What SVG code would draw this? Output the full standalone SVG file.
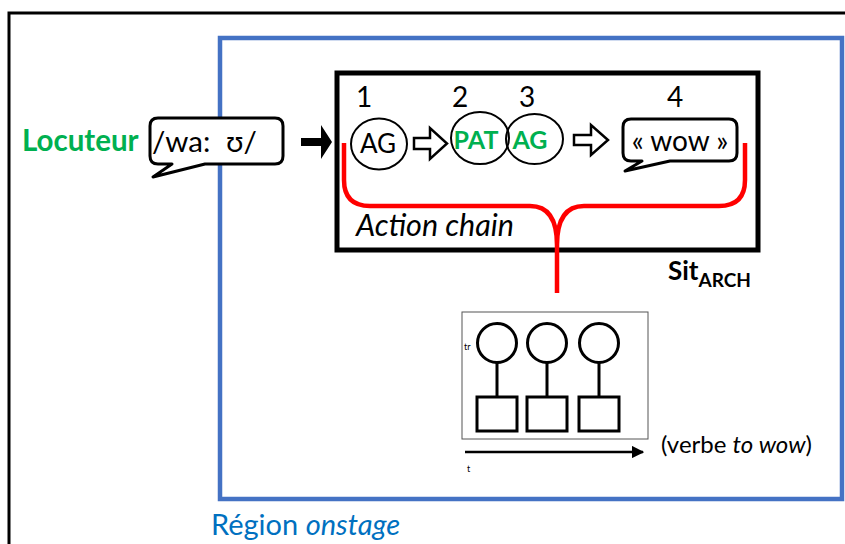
<svg xmlns="http://www.w3.org/2000/svg" width="845" height="544" viewBox="0 0 845 544">
<style>
text{font-family:Lato,"Liberation Sans","DejaVu Sans",sans-serif;fill:#000}
.g{fill:#00B050;font-weight:bold}
.thick{fill:none;stroke:#000;stroke-width:3}
.bub{fill:#fff;stroke:#000;stroke-width:3;stroke-linejoin:round}
.harrow{fill:#fff;stroke:#000;stroke-width:2.5;stroke-linejoin:miter}
</style>
<defs>
<marker id="ah" viewBox="0 0 10 10" refX="9" refY="5" markerWidth="5" markerHeight="5" orient="auto" markerUnits="strokeWidth"><path d="M0,0 L10,5 L0,10 z" fill="#000"/></marker>
</defs>
<rect width="845" height="544" fill="#fff"/>
<g id="frame"><path d="M9,548 V13 H850" fill="none" stroke="#000" stroke-width="3"/></g>
<g id="region-onstage">
<rect x="220" y="38" width="622" height="461" fill="none" stroke="#4472C4" stroke-width="4.5"/>
<text x="211" y="535" font-size="29" style="fill:#0070C0">Région <tspan font-style="italic">onstage</tspan></text>
</g>
<g id="locuteur"><text x="22" y="151" font-size="29.5" class="g">Locuteur</text></g>
<g id="bubble-wa">
<path class="bub" d="M158,118 H275 Q283,118 283,126 V156 Q283,164 275,164 H205 L153,177 L172,164 H158 Q150,164 150,156 V126 Q150,118 158,118 Z"/>
<text x="152" y="152" font-size="29.5">/wa:<tspan x="226">ʊ/</tspan></text>
</g>
<g id="sitarch">
<rect x="337" y="73" width="421" height="177" fill="none" stroke="#000" stroke-width="5"/>
<text x="356" y="236" font-size="30.5" font-style="italic">Action chain</text>
<text x="668" y="280" font-size="26" font-weight="bold">Sit<tspan font-size="19" dy="7">ARCH</tspan></text>
</g>
<g id="numbers" font-size="28">
<text x="364" y="107" text-anchor="middle" font-size="28">1</text>
<text x="460" y="107" text-anchor="middle" font-size="28">2</text>
<text x="527" y="107" text-anchor="middle" font-size="28">3</text>
<text x="675" y="107" text-anchor="middle" font-size="28">4</text>
</g>
<g id="ag1">
<ellipse cx="379" cy="144" rx="28" ry="25.5" fill="none" stroke="#000" stroke-width="2"/>
<text x="378" y="153" font-size="26" text-anchor="middle">AG</text>
</g>
<g id="pat">
<ellipse cx="480" cy="138" rx="29" ry="26" fill="none" stroke="#000" stroke-width="2"/>
<text x="476" y="149" font-size="25" text-anchor="middle" class="g">PAT</text>
</g>
<g id="ag2">
<ellipse cx="534.5" cy="139" rx="28.5" ry="25" fill="none" stroke="#000" stroke-width="2"/>
<text x="530" y="149" font-size="25" text-anchor="middle" class="g">AG</text>
</g>
<g id="bubble-wow">
<path class="bub" d="M631,119 H729 Q737,119 737,127 V153 Q737,161 729,161 H670 L625,171 L642,161 H631 Q623,161 623,153 V127 Q623,119 631,119 Z"/>
<text x="680" y="151" font-size="28" text-anchor="middle">« wow »</text>
</g>
<g id="timeline">
<rect x="462" y="312" width="186" height="127" fill="none" stroke="#555" stroke-width="1"/>
<g class="thick">
<circle cx="497" cy="343" r="19.5"/><circle cx="547" cy="343" r="19.5"/><circle cx="599" cy="343" r="19.5"/>
<line x1="497" y1="362.5" x2="497" y2="397"/><line x1="547" y1="362.5" x2="547" y2="397"/><line x1="599" y1="362.5" x2="599" y2="397"/>
<rect x="477" y="397" width="40" height="34"/><rect x="527" y="397" width="40" height="34"/><rect x="579" y="397" width="40" height="34"/>
</g>
<text x="464" y="350" font-size="9">tr</text>
<text x="467" y="472" font-size="9">t</text>
<text x="661" y="453" font-size="24">(verbe <tspan font-style="italic">to wow</tspan>)</text>
</g>
<g id="connectors">
<path d="M301,138 H321 V125 L332,142 L321,159 V146 H301 Z" fill="#000"/>
<path class="harrow" d="M414,138 H430 V128 L447,143.5 L430,159 V149 H414 Z"/>
<path class="harrow" d="M574,135 H591 V125 L608,140 L591,155 V145 H574 Z"/>
<path d="M344,143 V180 Q344,206 370,206 H530 Q557,206 557,245 V293 M745,143 V180 Q745,206 719,206 H584 Q557,206 557,245" fill="none" stroke="#FF0000" stroke-width="4.5"/>
<line x1="465" y1="452" x2="643" y2="452" stroke="#000" stroke-width="2.5" marker-end="url(#ah)"/>
</g>
</svg>
